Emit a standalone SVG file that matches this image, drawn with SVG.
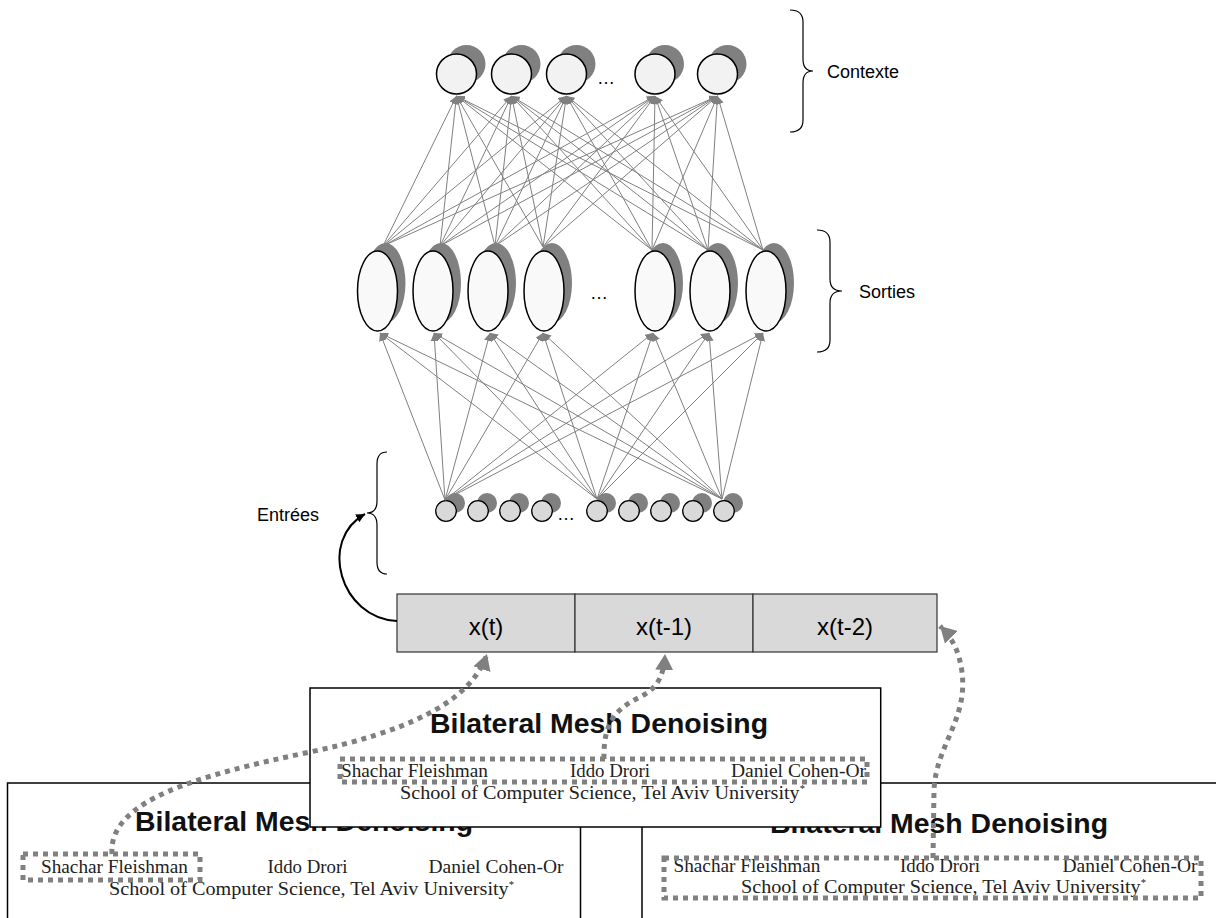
<svg xmlns="http://www.w3.org/2000/svg" width="1216" height="918" viewBox="0 0 1216 918">
<style>
.lbl{font-family:"Liberation Sans",Arial,sans-serif;font-size:18px;fill:#000}
.dots{font-family:"Liberation Sans",Arial,sans-serif;font-size:18px;fill:#000}
.shadow{fill:#808080;stroke:none}
.ctx{fill:#f2f2f2;stroke:#000;stroke-width:1.5}
.outn{fill:#f9f9f9;stroke:#000;stroke-width:1.5}
.inn{fill:#d9d9d9;stroke:#000;stroke-width:1.3}
.brace{fill:none;stroke:#000;stroke-width:1.2}
.cell{fill:#d9d9d9;stroke:#333;stroke-width:1.2}
.celltxt{font-family:"Liberation Sans",Arial,sans-serif;font-size:24px;fill:#000;text-anchor:middle}
.panel{fill:#fff;stroke:#000;stroke-width:1.5}
.ttl{font-family:"Liberation Sans",Arial,sans-serif;font-size:28px;font-weight:bold;fill:#111}
.auth{font-family:"Liberation Serif","Times New Roman",serif;font-size:19px;fill:#222}
.net line{stroke:#808080;stroke-width:1;marker-end:url(#ag)}
.dash{fill:none;stroke:#808080;stroke-width:5;stroke-dasharray:5 5}
.dasharrow{fill:none;stroke:#808080;stroke-width:5;stroke-dasharray:5 5;marker-end:url(#ad)}
</style>
<defs>
<marker id="ag" viewBox="0 0 10 10" refX="10" refY="5" markerWidth="8" markerHeight="8" markerUnits="userSpaceOnUse" orient="auto">
<path d="M0,0 L10,5 L0,10 z" fill="#808080"/>
</marker>
<marker id="ab" viewBox="0 0 10 10" refX="10" refY="5" markerWidth="9" markerHeight="9" markerUnits="userSpaceOnUse" orient="auto">
<path d="M0,0 L10,5 L0,10 z" fill="#000"/>
</marker>
<marker id="ad" viewBox="0 0 16 18" refX="16" refY="9" markerWidth="16" markerHeight="18" markerUnits="userSpaceOnUse" orient="auto">
<path d="M0,0 L16,9 L0,18 z" fill="#808080"/>
</marker>
</defs>

<!-- bottom panels -->
<g id="panel-left">
<rect class="panel" x="7.5" y="783" width="573" height="160"/>
<text class="ttl" x="135" y="831" textLength="338" lengthAdjust="spacingAndGlyphs">Bilateral Mesh Denoising</text>
<text class="auth" x="41" y="872.5" textLength="147" lengthAdjust="spacingAndGlyphs">Shachar Fleishman</text>
<text class="auth" x="267.5" y="872.5" textLength="80" lengthAdjust="spacingAndGlyphs">Iddo Drori</text>
<text class="auth" x="428.5" y="872.5" textLength="135" lengthAdjust="spacingAndGlyphs">Daniel Cohen-Or</text>
<text class="auth" x="109" y="894.5" textLength="405" lengthAdjust="spacingAndGlyphs">School of Computer Science, Tel Aviv University<tspan font-size="10" dy="-7">*</tspan></text>
</g>
<g id="panel-right">
<rect class="panel" x="642" y="783" width="590" height="160"/>
<text class="ttl" x="770" y="833" textLength="338" lengthAdjust="spacingAndGlyphs">Bilateral Mesh Denoising</text>
<text class="auth" x="673.5" y="872" textLength="147" lengthAdjust="spacingAndGlyphs">Shachar Fleishman</text>
<text class="auth" x="900" y="872" textLength="80" lengthAdjust="spacingAndGlyphs">Iddo Drori</text>
<text class="auth" x="1062.5" y="872" textLength="135" lengthAdjust="spacingAndGlyphs">Daniel Cohen-Or</text>
<text class="auth" x="741" y="893" textLength="405" lengthAdjust="spacingAndGlyphs">School of Computer Science, Tel Aviv University<tspan font-size="10" dy="-7">*</tspan></text>
</g>
<g id="panel-mid">
<rect class="panel" x="310" y="688" width="570.7" height="139"/>
<text class="ttl" x="430" y="733" textLength="338" lengthAdjust="spacingAndGlyphs">Bilateral Mesh Denoising</text>
<text class="auth" x="341" y="777" textLength="147" lengthAdjust="spacingAndGlyphs">Shachar Fleishman</text>
<text class="auth" x="570" y="777" textLength="80" lengthAdjust="spacingAndGlyphs">Iddo Drori</text>
<text class="auth" x="731" y="777" textLength="135" lengthAdjust="spacingAndGlyphs">Daniel Cohen-Or</text>
<text class="auth" x="400" y="799" textLength="405" lengthAdjust="spacingAndGlyphs">School of Computer Science, Tel Aviv University<tspan font-size="10" dy="-7">*</tspan></text>
</g>

<!-- time window box -->
<g id="cell-xt">
<rect class="cell" x="397" y="594" width="178" height="58"/>
<text class="celltxt" x="486" y="635">x(t)</text>
</g>
<g id="cell-xt1">
<rect class="cell" x="575" y="594" width="178" height="58"/>
<text class="celltxt" x="664" y="635">x(t-1)</text>
</g>
<g id="cell-xt2">
<rect class="cell" x="753" y="594" width="184" height="58"/>
<text class="celltxt" x="845" y="635">x(t-2)</text>
</g>

<!-- context nodes -->
<g id="ctx1"><circle class="shadow" cx="466.5" cy="64" r="19"/><circle class="ctx" cx="456.5" cy="74" r="20"/></g>
<g id="ctx2"><circle class="shadow" cx="521.5" cy="64" r="19"/><circle class="ctx" cx="511.5" cy="74" r="20"/></g>
<g id="ctx3"><circle class="shadow" cx="576.5" cy="64" r="19"/><circle class="ctx" cx="566.5" cy="74" r="20"/></g>
<g id="ctx4"><circle class="shadow" cx="665" cy="64" r="19"/><circle class="ctx" cx="655" cy="74" r="20"/></g>
<g id="ctx5"><circle class="shadow" cx="727.5" cy="64" r="19"/><circle class="ctx" cx="717.5" cy="74" r="20"/></g>
<text class="dots" x="597" y="84">…</text>

<!-- output nodes -->
<g id="out1"><ellipse class="shadow" cx="385.5" cy="283" rx="20" ry="40"/><ellipse class="outn" cx="377.5" cy="291" rx="20" ry="40"/></g>
<g id="out2"><ellipse class="shadow" cx="441" cy="283" rx="20" ry="40"/><ellipse class="outn" cx="433" cy="291" rx="20" ry="40"/></g>
<g id="out3"><ellipse class="shadow" cx="496" cy="283" rx="20" ry="40"/><ellipse class="outn" cx="488" cy="291" rx="20" ry="40"/></g>
<g id="out4"><ellipse class="shadow" cx="552" cy="283" rx="20" ry="40"/><ellipse class="outn" cx="544" cy="291" rx="20" ry="40"/></g>
<g id="out5"><ellipse class="shadow" cx="663" cy="283" rx="20" ry="40"/><ellipse class="outn" cx="655" cy="291" rx="20" ry="40"/></g>
<g id="out6"><ellipse class="shadow" cx="718" cy="283" rx="20" ry="40"/><ellipse class="outn" cx="710" cy="291" rx="20" ry="40"/></g>
<g id="out7"><ellipse class="shadow" cx="774" cy="283" rx="20" ry="40"/><ellipse class="outn" cx="766" cy="291" rx="20" ry="40"/></g>
<text class="dots" x="590" y="299">…</text>

<!-- input nodes -->
<g id="in1"><circle class="shadow" cx="455" cy="503" r="10"/><circle class="inn" cx="446" cy="511" r="10.3"/></g>
<g id="in2"><circle class="shadow" cx="487" cy="503" r="10"/><circle class="inn" cx="478" cy="511" r="10.3"/></g>
<g id="in3"><circle class="shadow" cx="519" cy="503" r="10"/><circle class="inn" cx="510" cy="511" r="10.3"/></g>
<g id="in4"><circle class="shadow" cx="551" cy="503" r="10"/><circle class="inn" cx="542" cy="511" r="10.3"/></g>
<g id="in5"><circle class="shadow" cx="606" cy="503" r="10"/><circle class="inn" cx="597" cy="511" r="10.3"/></g>
<g id="in6"><circle class="shadow" cx="638" cy="503" r="10"/><circle class="inn" cx="629" cy="511" r="10.3"/></g>
<g id="in7"><circle class="shadow" cx="670" cy="503" r="10"/><circle class="inn" cx="661" cy="511" r="10.3"/></g>
<g id="in8"><circle class="shadow" cx="702" cy="503" r="10"/><circle class="inn" cx="693" cy="511" r="10.3"/></g>
<g id="in9"><circle class="shadow" cx="733" cy="503" r="10"/><circle class="inn" cx="724" cy="511" r="10.3"/></g>
<text class="dots" x="557" y="520">…</text>

<!-- braces and labels -->
<g id="brace-contexte">
<path class="brace" d="M790 10 Q803 10 803 22 L803 59 Q803 71 813 71 Q803 71 803 83 L803 120 Q803 132 790 132"/>
<text class="lbl" x="827" y="78">Contexte</text>
</g>
<g id="brace-sorties">
<path class="brace" d="M817 230 Q830 230 830 242 L830 279 Q830 291 842 291 Q830 291 830 303 L830 340 Q830 352 817 352"/>
<text class="lbl" x="859" y="298">Sorties</text>
</g>
<g id="brace-entrees">
<path class="brace" d="M387 452 Q377 452 377 464 L377 501 Q377 513 367 513 Q377 513 377 525 L377 562 Q377 574 387 574"/>
<text class="lbl" x="257" y="521">Entrées</text>
</g>

<!-- connectors -->
<g id="connectors">
<g class="net">
<line x1="383" y1="246" x2="456.5" y2="96"/>
<line x1="383" y1="246" x2="511.5" y2="96"/>
<line x1="383" y1="246" x2="566.5" y2="96"/>
<line x1="383" y1="246" x2="655" y2="96"/>
<line x1="383" y1="246" x2="717.5" y2="96"/>
<line x1="440" y1="246" x2="456.5" y2="96"/>
<line x1="440" y1="246" x2="511.5" y2="96"/>
<line x1="440" y1="246" x2="566.5" y2="96"/>
<line x1="440" y1="246" x2="655" y2="96"/>
<line x1="440" y1="246" x2="717.5" y2="96"/>
<line x1="495" y1="246" x2="456.5" y2="96"/>
<line x1="495" y1="246" x2="511.5" y2="96"/>
<line x1="495" y1="246" x2="566.5" y2="96"/>
<line x1="495" y1="246" x2="655" y2="96"/>
<line x1="495" y1="246" x2="717.5" y2="96"/>
<line x1="543" y1="247" x2="456.5" y2="96"/>
<line x1="543" y1="247" x2="511.5" y2="96"/>
<line x1="543" y1="247" x2="566.5" y2="96"/>
<line x1="543" y1="247" x2="655" y2="96"/>
<line x1="543" y1="247" x2="717.5" y2="96"/>
<line x1="652" y1="250" x2="456.5" y2="96"/>
<line x1="652" y1="250" x2="511.5" y2="96"/>
<line x1="652" y1="250" x2="566.5" y2="96"/>
<line x1="652" y1="250" x2="655" y2="96"/>
<line x1="652" y1="250" x2="717.5" y2="96"/>
<line x1="708" y1="250" x2="456.5" y2="96"/>
<line x1="708" y1="250" x2="511.5" y2="96"/>
<line x1="708" y1="250" x2="566.5" y2="96"/>
<line x1="708" y1="250" x2="655" y2="96"/>
<line x1="708" y1="250" x2="717.5" y2="96"/>
<line x1="763" y1="250" x2="456.5" y2="96"/>
<line x1="763" y1="250" x2="511.5" y2="96"/>
<line x1="763" y1="250" x2="566.5" y2="96"/>
<line x1="763" y1="250" x2="655" y2="96"/>
<line x1="763" y1="250" x2="717.5" y2="96"/>
<line x1="445" y1="500" x2="380" y2="333"/>
<line x1="445" y1="500" x2="434" y2="333"/>
<line x1="445" y1="500" x2="490" y2="333"/>
<line x1="445" y1="500" x2="543" y2="333"/>
<line x1="445" y1="500" x2="653" y2="333"/>
<line x1="445" y1="500" x2="709" y2="333"/>
<line x1="445" y1="500" x2="763" y2="333"/>
<line x1="597" y1="499" x2="380" y2="333"/>
<line x1="597" y1="499" x2="434" y2="333"/>
<line x1="597" y1="499" x2="490" y2="333"/>
<line x1="597" y1="499" x2="543" y2="333"/>
<line x1="597" y1="499" x2="653" y2="333"/>
<line x1="597" y1="499" x2="709" y2="333"/>
<line x1="597" y1="499" x2="763" y2="333"/>
<line x1="722" y1="499" x2="380" y2="333"/>
<line x1="722" y1="499" x2="434" y2="333"/>
<line x1="722" y1="499" x2="490" y2="333"/>
<line x1="722" y1="499" x2="543" y2="333"/>
<line x1="722" y1="499" x2="653" y2="333"/>
<line x1="722" y1="499" x2="709" y2="333"/>
<line x1="722" y1="499" x2="763" y2="333"/>
</g>
<path d="M397 621 C340 618 318 540 365 514" fill="none" stroke="#000" stroke-width="2" marker-end="url(#ab)"/>
<rect class="dash" x="23" y="854" width="177" height="26"/>
<rect class="dash" x="340" y="759" width="527" height="23"/>
<rect class="dash" x="664" y="858" width="537" height="40"/>
<path class="dasharrow" d="M112 854 C108 800 200 775 310 752 C400 733 470 705 487 654"/>
<path class="dasharrow" d="M604 759 C603 720 618 708 640 697 C658 688 664 675 665 654"/>
<path class="dasharrow" d="M933 858 L934 790 C936 745 968 720 962 672 C959 650 952 638 940 626"/>
</g>
</svg>
